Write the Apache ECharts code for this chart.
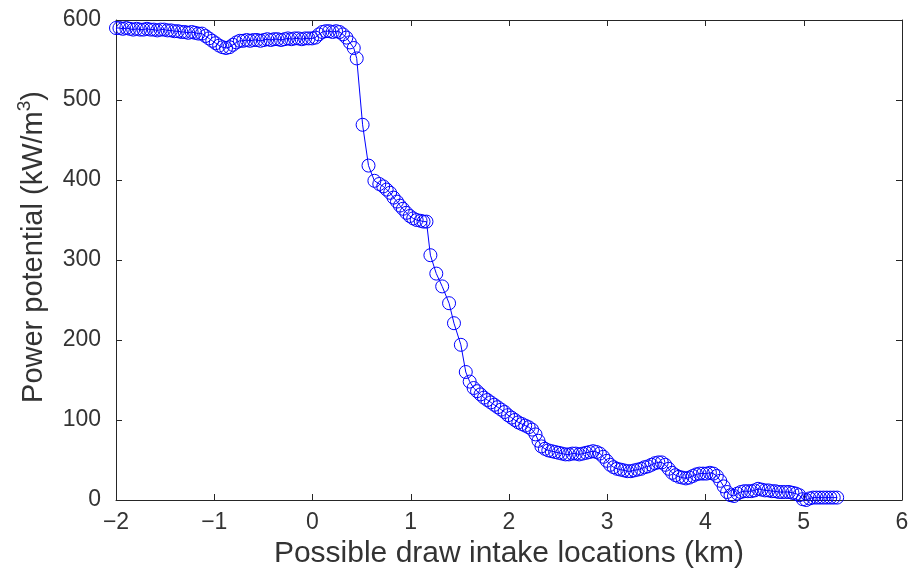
<!DOCTYPE html>
<html>
<head>
<meta charset="utf-8">
<script src="https://cdn.jsdelivr.net/npm/echarts@6/dist/echarts.min.js"></script>
<style>
html,body{margin:0;padding:0;background:#fff;}
#chart{width:915px;height:570px;}
</style>
</head>
<body>
<div id="chart"></div>
<script>
const xTicks = [-2, -1, 0, 1, 2, 3, 4, 5, 6];
const yTicks = [0, 100, 200, 300, 400, 500, 600];
const xTitle = 'Possible draw intake locations (km)';
const yTitle = 'Power potential (kW/m{sup|3})';

const distanceKm = [
-2.000,-1.965,-1.930,-1.895,-1.860,-1.825,-1.790,-1.755,-1.720,-1.685,
-1.650,-1.615,-1.580,-1.545,-1.510,-1.475,-1.440,-1.405,-1.370,-1.335,
-1.300,-1.265,-1.230,-1.195,-1.160,-1.125,-1.090,-1.055,-1.020,-0.985,
-0.950,-0.915,-0.880,-0.845,-0.810,-0.775,-0.740,-0.705,-0.670,-0.635,
-0.600,-0.565,-0.530,-0.495,-0.460,-0.425,-0.390,-0.355,-0.320,-0.285,
-0.250,-0.215,-0.180,-0.145,-0.110,-0.075,-0.040,-0.005,0.030,0.065,
0.100,0.135,0.170,0.205,0.240,0.275,0.310,0.345,0.380,0.420,
0.450,0.510,0.570,0.630,0.680,0.720,0.755,0.790,0.825,0.860,
0.890,0.920,0.955,0.990,1.025,1.060,1.100,1.130,1.160,1.200,
1.260,1.320,1.390,1.440,1.510,1.560,1.600,1.640,1.675,1.710,
1.745,1.780,1.815,1.850,1.885,1.920,1.955,1.990,2.025,2.060,
2.095,2.130,2.165,2.200,2.235,2.270,2.300,2.330,2.365,2.400,
2.435,2.470,2.505,2.540,2.575,2.610,2.645,2.680,2.715,2.750,
2.785,2.820,2.855,2.890,2.925,2.960,2.995,3.030,3.065,3.100,
3.135,3.170,3.205,3.240,3.275,3.310,3.345,3.380,3.415,3.450,
3.485,3.520,3.555,3.590,3.625,3.660,3.695,3.730,3.765,3.800,
3.835,3.870,3.905,3.940,3.975,4.010,4.045,4.080,4.115,4.150,
4.185,4.220,4.255,4.290,4.325,4.360,4.395,4.430,4.465,4.500,
4.535,4.570,4.605,4.640,4.675,4.710,4.745,4.780,4.815,4.850,
4.885,4.920,4.955,4.990,5.025,5.060,5.095,5.130,5.165,5.200,
5.235,5.270,5.305,5.340
];

const powerKw = [
590,590,589,590,589,588,589,588,588,589,
588,588,587,588,588,587,587,586,586,585,
585,584,585,584,583,583,580,577,574,571,
568,566,565,566,569,572,574,574,575,574,
575,575,574,575,576,575,576,576,575,576,
577,576,577,577,576,577,577,577,578,582,
585,586,586,585,586,585,582,578,572,565,
552,469,418,399,395,392,388,384,378,373,
368,364,359,355,352,350,349,348,348,306,
283,267,246,221,194,160,148,140,136,132,
128,125,122,119,116,113,110,106,103,100,
97,95,93,91,88,82,74,67,64,62,
61,60,59,58,57,57,58,58,57,58,
59,60,61,60,58,54,49,44,41,39,
38,37,36,36,37,38,39,41,42,44,
46,47,47,44,39,34,31,29,28,27,
28,30,32,33,33,33,34,33,30,24,
17,10,6,5,8,10,11,11,11,12,
14,13,12,12,11,11,10,10,10,10,
9,8,6,1,0,2,3,3,3,3,
3,3,3,3
];

const seriesData = distanceKm.map((x, i) => [x, powerKw[i]]);

const FONT = "'Liberation Sans', Arial, Helvetica, sans-serif";
const AX = '#262626';
const TXT = '#333333';
const minus = v => String(v).replace('-', '\u2212');

const chart = echarts.init(document.getElementById('chart'), null, {renderer: 'canvas'});
chart.setOption({
  animation: false,
  backgroundColor: '#fff',
  grid: {left: 116, right: 13, top: 20, bottom: 70, containLabel: false, outerBoundsMode: 'none'},
  xAxis: [{
    type: 'value',
    min: xTicks[0], max: xTicks[xTicks.length - 1], interval: 1,
    position: 'bottom',
    name: xTitle, nameLocation: 'middle', nameGap: 34,
    nameTextStyle: {fontFamily: FONT, fontSize: 30, color: TXT},
    axisLine: {show: true, onZero: false, lineStyle: {color: AX, width: 1}},
    axisTick: {show: true, inside: true, length: 6, lineStyle: {color: AX}},
    axisLabel: {fontFamily: FONT, fontSize: 23, color: TXT, margin: 11, formatter: minus},
    splitLine: {show: false}
  }, {
    type: 'value',
    min: xTicks[0], max: xTicks[xTicks.length - 1], interval: 1,
    position: 'top',
    axisLine: {show: true, onZero: false, lineStyle: {color: AX, width: 1}},
    axisTick: {show: true, inside: true, length: 6, lineStyle: {color: AX}},
    axisLabel: {show: false},
    splitLine: {show: false}
  }],
  yAxis: [{
    type: 'value',
    min: yTicks[0], max: yTicks[yTicks.length - 1], interval: 100,
    position: 'left',
    name: yTitle, nameLocation: 'middle', nameGap: 54, nameRotate: 90,
    nameTextStyle: {
      fontFamily: FONT, fontSize: 29, color: TXT, lineHeight: 36,
      padding: [0, 0, 0, 26],
      rich: {
        sup: {fontFamily: FONT, fontSize: 19, color: TXT, verticalAlign: 'top', lineHeight: 36}
      }
    },
    axisLine: {show: true, onZero: false, lineStyle: {color: AX, width: 1}},
    axisTick: {show: true, inside: true, length: 6, lineStyle: {color: AX}},
    axisLabel: {fontFamily: FONT, fontSize: 23, color: TXT, margin: 15},
    splitLine: {show: false}
  }, {
    type: 'value',
    min: yTicks[0], max: yTicks[yTicks.length - 1], interval: 100,
    position: 'right',
    axisLine: {show: true, onZero: false, lineStyle: {color: AX, width: 1}},
    axisTick: {show: true, inside: true, length: 6, lineStyle: {color: AX}},
    axisLabel: {show: false},
    splitLine: {show: false}
  }],
  series: [{
    type: 'line',
    xAxisIndex: 0, yAxisIndex: 0,
    data: seriesData,
    symbol: 'circle',
    symbolSize: 13,
    showAllSymbol: true,
    clip: false,
    lineStyle: {color: '#0000ff', width: 1},
    itemStyle: {color: 'rgba(0,0,0,0)', borderColor: '#0000ff', borderWidth: 1}
  }]
});
</script>
</body>
</html>
